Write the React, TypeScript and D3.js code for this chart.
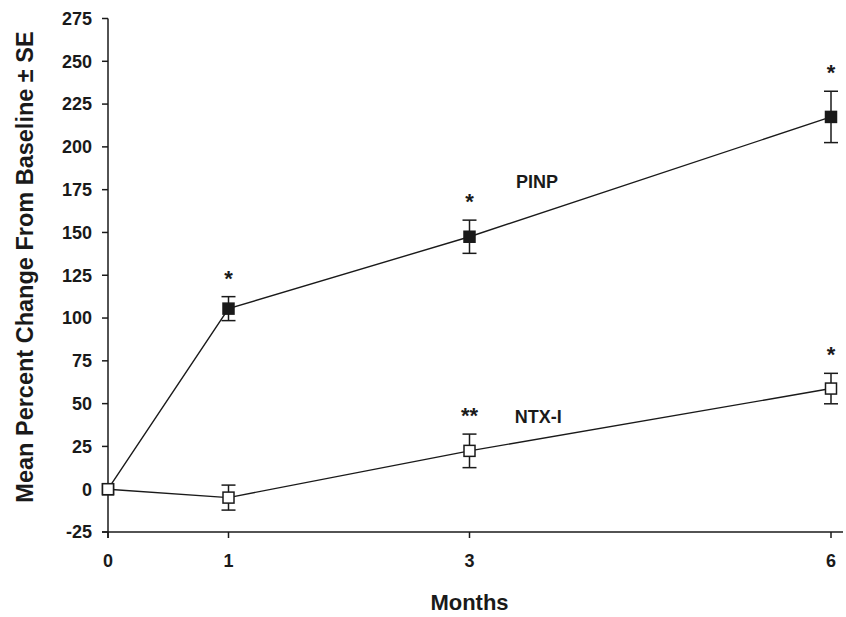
import React from "react";
import * as d3 from "d3";

const months = [0, 1, 3, 6];
const pinpMean = [0, 105.5, 147.5, 217.5];
const pinpSE = [0, 7, 9.7, 15];
const pinpSig = ["", "*", "*", "*"];
const ntxMean = [0, -4.9, 22.4, 58.8];
const ntxSE = [0, 7.3, 9.8, 8.9];
const ntxSig = ["", "", "**", "*"];
const yTicks = [-25, 0, 25, 50, 75, 100, 125, 150, 175, 200, 225, 250, 275];
const xTicks = [0, 1, 3, 6];

const W = 846;
const H = 617;
const FONT = "'Liberation Sans', Arial, sans-serif";
const INK = "#1a1a1a";

export default function App() {
  const x = d3.scaleLinear().domain([0, 6]).range([108, 831]);
  const y = d3.scaleLinear().domain([-25, 275]).range([532, 18.5]);
  const line = d3
    .line<number>()
    .x((_, i) => x(months[i]))
    .y((d) => y(d));
  const [x0, x1] = x.range();
  const [yb, yt] = y.range();
  const tick = 6;
  const ms = 11;
  const cap = 7;

  const series = [
    { name: "PINP", mean: pinpMean, se: pinpSE, sig: pinpSig, fill: INK, labelX: 3.56, labelV: 179.5 },
    { name: "NTX-I", mean: ntxMean, se: ntxSE, sig: ntxSig, fill: "#fff", labelX: 3.57, labelV: 42.5 },
  ];

  return (
    <svg width={W} height={H} style={{ position: "absolute", left: 0, top: 0, background: "#fff" }} fontFamily={FONT}>
      <line x1={x0} x2={x0} y1={yt} y2={yb + tick} stroke={INK} strokeWidth={1.5} />
      <line x1={x0 - tick} x2={x1 + 12} y1={yb} y2={yb} stroke={INK} strokeWidth={1.5} />
      {yTicks.map((t) => (
        <g key={"y" + t}>
          <line x1={x0 - tick} x2={x0} y1={y(t)} y2={y(t)} stroke={INK} strokeWidth={1.5} />
          <text x={x0 - 16} y={y(t)} dy="0.35em" textAnchor="end" fontSize={18} fontWeight="bold" fill={INK}>
            {t}
          </text>
        </g>
      ))}
      {xTicks.map((t) => (
        <g key={"x" + t}>
          <line x1={x(t)} x2={x(t)} y1={yb} y2={yb + tick} stroke={INK} strokeWidth={1.5} />
          <text x={x(t)} y={yb + 29} dy="0.35em" textAnchor="middle" fontSize={18} fontWeight="bold" fill={INK}>
            {t}
          </text>
        </g>
      ))}
      <text x={(x0 + x1) / 2} y={610} textAnchor="middle" fontSize={22} fontWeight="bold" fill={INK}>
        Months
      </text>
      <text
        transform={`translate(33, 267) rotate(-90)`}
        textAnchor="middle"
        fontSize={23.5}
        fontWeight="bold"
        fill={INK}
      >
        Mean Percent Change From Baseline ± SE
      </text>

      {series.map((s) => (
        <g key={s.name}>
          <path d={line(s.mean) || ""} fill="none" stroke={INK} strokeWidth={1.4} />
          {s.mean.map((m, i) =>
            s.se[i] > 0 ? (
              <g key={"e" + i} stroke={INK} strokeWidth={1.5}>
                <line x1={x(months[i])} x2={x(months[i])} y1={y(m + s.se[i])} y2={y(m - s.se[i])} />
                <line x1={x(months[i]) - cap} x2={x(months[i]) + cap} y1={y(m + s.se[i])} y2={y(m + s.se[i])} />
                <line x1={x(months[i]) - cap} x2={x(months[i]) + cap} y1={y(m - s.se[i])} y2={y(m - s.se[i])} />
              </g>
            ) : null
          )}
          {s.mean.map((m, i) => (
            <rect
              key={"m" + i}
              x={x(months[i]) - ms / 2}
              y={y(m) - ms / 2}
              width={ms}
              height={ms}
              fill={s.fill}
              stroke={INK}
              strokeWidth={1.5}
            />
          ))}
          {s.mean.map((m, i) =>
            s.sig[i] ? (
              <text
                key={"s" + i}
                x={x(months[i])}
                y={y(m + s.se[i]) - 11}
                textAnchor="middle"
                fontSize={22}
                fontWeight="bold"
                fill={INK}
              >
                {s.sig[i]}
              </text>
            ) : null
          )}
          <text
            x={x(s.labelX)}
            y={y(s.labelV)}
            dy="0.35em"
            textAnchor="middle"
            fontSize={18}
            fontWeight="bold"
            fill={INK}
          >
            {s.name}
          </text>
        </g>
      ))}
    </svg>
  );
}
